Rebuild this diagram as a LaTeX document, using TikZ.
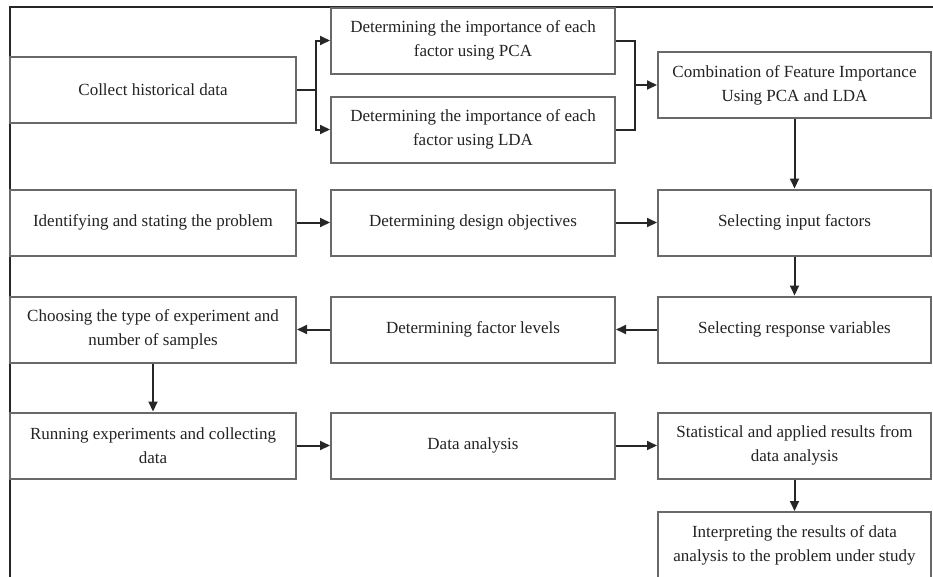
\documentclass[tikz,border=0pt]{standalone}
\usepackage{fontspec}
\setmainfont{Liberation Serif}
\usepackage{tikz}
\usepackage{xcolor}
\usetikzlibrary{arrows.meta}

\begin{document}
\begin{tikzpicture}[x=1pt,y=-1pt,
  stepbox/.style={draw=boxline, line width=2pt, fill=white, text=txt,
    minimum width=284pt, minimum height=66pt, align=center,
    inner sep=2pt, font=\fontsize{17}{24}\selectfont},
  arr/.style={line width=2pt, draw=black!85, -{Triangle[length=10pt,width=9pt]}},
  lnk/.style={line width=2pt, draw=black!85}]
% Colors
\definecolor{boxline}{RGB}{105,105,105}
\definecolor{txt}{RGB}{35,35,35}

\useasboundingbox (0,0) rectangle (933,576);

% Outer frame (only top and left visible)
\draw[line width=2pt, black!85] (10,590) -- (10,7) -- (945,7);

% Row 1: data and feature importance
\node[stepbox, minimum width=286pt] (collect) at (153,89.5) {Collect historical data};
\node[stepbox] (pca) at (473,40.5) {Determining the importance of each\\ factor using PCA};
\node[stepbox] (lda) at (473,129.5) {Determining the importance of each\\ factor using LDA};
\node[stepbox, minimum width=273pt] (combo) at (794.5,85) {Combination of Feature Importance\\ Using PCA and LDA};

% Row 2
\node[stepbox, minimum width=286pt] (ident) at (153,222.5) {Identifying and stating the problem};
\node[stepbox] (design) at (473,222.5) {Determining design objectives};
\node[stepbox, minimum width=273pt] (input) at (794.5,222.5) {Selecting input factors};

% Row 3
\node[stepbox, minimum width=286pt] (choose) at (153,329.5) {Choosing the type of experiment and\\ number of samples};
\node[stepbox] (levels) at (473,329.5) {Determining factor levels};
\node[stepbox, minimum width=273pt] (response) at (794.5,329.5) {Selecting response variables};

% Row 4
\node[stepbox, minimum width=286pt] (running) at (153,445.5) {Running experiments and collecting\\ data};
\node[stepbox] (analysis) at (473,445.5) {Data analysis};
\node[stepbox, minimum width=273pt] (stats) at (794.5,445.5) {Statistical and applied results from\\ data analysis};
\node[stepbox, minimum width=273pt] (interp) at (794.5,545) {Interpreting the results of data\\ analysis to the problem under study};

% Split and merge
\draw[arr] (collect.east) -- ++(19,0) |- (pca.west);
\draw[arr] (collect.east) -- ++(19,0) |- (lda.west);
\coordinate (join) at (635,85);
\draw[lnk] (pca.east) -| (join);
\draw[lnk] (lda.east) -| (join);
\draw[arr] (join) -- (combo.west);

% Flow
\draw[arr] (combo) -- (input);
\draw[arr] (ident) -- (design);
\draw[arr] (design) -- (input);
\draw[arr] (input) -- (response);
\draw[arr] (response) -- (levels);
\draw[arr] (levels) -- (choose);
\draw[arr] (choose) -- (running);
\draw[arr] (running) -- (analysis);
\draw[arr] (analysis) -- (stats);
\draw[arr] (stats) -- (interp);

\end{tikzpicture}
\end{document}
